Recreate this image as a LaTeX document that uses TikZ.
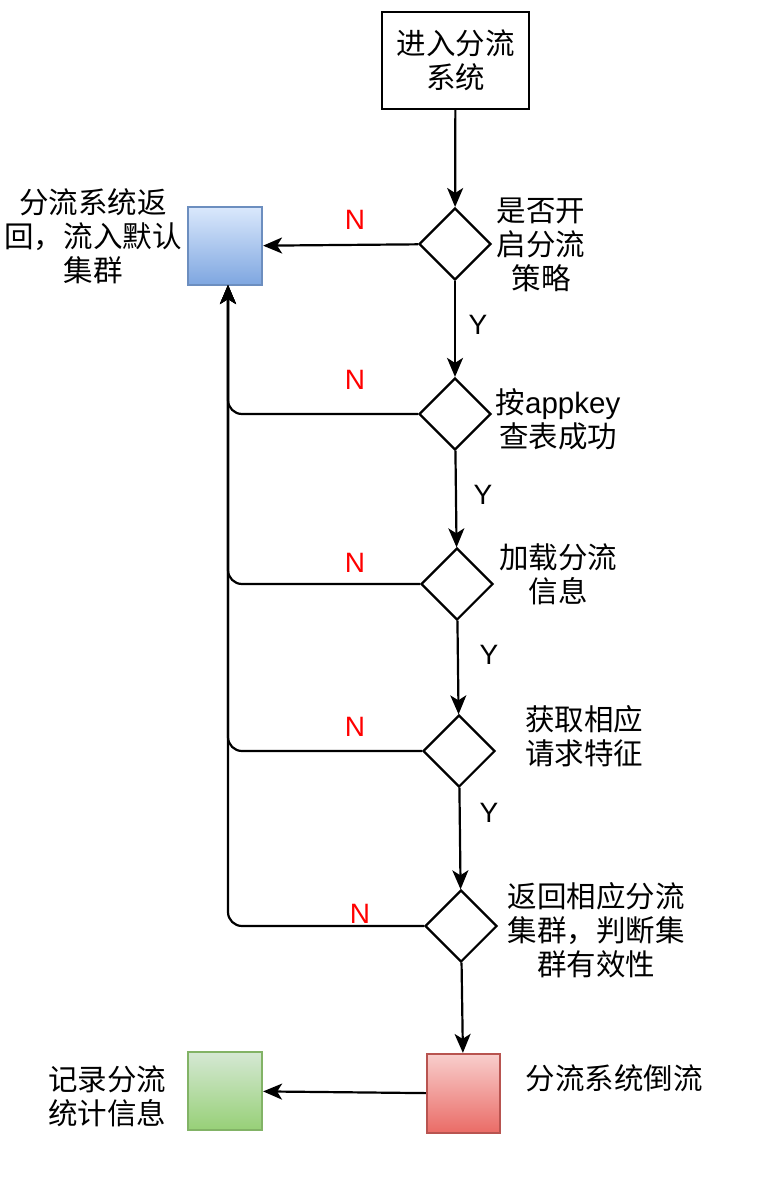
\documentclass[tikz,border=0pt]{standalone}
\usepackage{fontspec}
\setmainfont{Noto Sans CJK SC}
\newfontfamily\latinfont{Liberation Sans}
\usepackage{tikz}
\usetikzlibrary{arrows.meta, shapes.geometric, positioning}

\definecolor{blueA}{HTML}{DAE8FC}\definecolor{blueB}{HTML}{7EA6E0}\definecolor{blueL}{HTML}{6C8EBF}
\definecolor{redA}{HTML}{F8CECC}\definecolor{redB}{HTML}{EA6B66}\definecolor{redL}{HTML}{B85450}
\definecolor{greenA}{HTML}{D5E8D4}\definecolor{greenB}{HTML}{97D077}\definecolor{greenL}{HTML}{82B366}

\begin{document}
\begin{tikzpicture}[x=1pt, y=-1pt, line width=2.2pt, >={Stealth[length=19pt, width=16pt, inset=5pt]},
		font=\fontsize{29.5}{33.8}\selectfont,
		decision/.style={draw, diamond, minimum size=72pt, inner sep=0pt},
		colbox/.style={draw, minimum width=74pt, minimum height=78pt, inner sep=0pt},
		lab/.style={align=center, inner sep=0pt},
		nlab/.style={inner sep=0pt, text=red, font=\latinfont\fontsize{28}{30}\selectfont},
		ylab/.style={inner sep=0pt, font=\latinfont\fontsize{28}{30}\selectfont}]
		\fill[white] (0,0) rectangle (760,1190); \useasboundingbox (0,0) rectangle (760,1190);
		% boxes
		\node[draw, minimum width=147pt, minimum height=97pt, align=center, inner sep=0pt] (start) at (455.5,60.5) {进入分流\\系统};
		\node[colbox, draw=blueL, top color=blueA, bottom color=blueB] (dflt) at (225,246) {};
		\node[colbox, draw=redL, top color=redA, bottom color=redB, minimum width=73pt, minimum height=79pt] (rev) at (463.5,1093.5) {};
		\node[colbox, draw=greenL, top color=greenA, bottom color=greenB] (stat) at (225,1091) {};
		% decisions
		\node[decision] (open) at (455,244) {};
		\node[decision] (look) at (455,414) {};
		\node[decision] (load) at (457,584) {};
		\node[decision] (feat) at (459,751) {};
		\node[decision] (valid) at (461,926) {};
		% texts
		\node[lab] (t0) at (93,236) {分流系统返\\回，流入默认\\集群};
		\node[lab] (t1) at (541,245) {是否开\\启分流\\策略};
		\node[lab] (t2) at (558,419) {按{\latinfont appkey}\\查表成功};
		\node[lab] (t3) at (558,574) {加载分流\\信息};
		\node[lab] (t4) at (584,736) {获取相应\\请求特征};
		\node[lab] (t5) at (596,930) {返回相应分流\\集群，判断集\\群有效性};
		\node[lab] (t6) at (614,1078) {分流系统倒流};
		\node[lab] (t7) at (107,1096) {记录分流\\统计信息};
		\node[nlab] (n1) at (355,220) {N}; \node[nlab] (n2) at (355,380) {N}; \node[nlab] (n3) at (355,563) {N};
		\node[nlab] (n4) at (355,727) {N}; \node[nlab] (n5) at (360,914) {N};
		\node[ylab] (y1) at (478,325) {Y}; \node[ylab] (y2) at (483,495) {Y};
		\node[ylab] (y3) at (489,655) {Y}; \node[ylab] (y4) at (489,813) {Y};
		% connectors
		\draw[->] (start) -- (open); \draw[->] (open) -- (look); \draw[->] (look) -- (load);
		\draw[->] (load) -- (feat); \draw[->] (feat) -- (valid); \draw[->] (valid) -- (rev);
		\draw[->] (open) -- (dflt); \draw[->] (rev) -- (stat);
		\coordinate (back) at (228,285);
		\draw[->, rounded corners=14pt] (look.west) -| (back); \draw[->, rounded corners=14pt] (load.west) -| (back);
		\draw[->, rounded corners=14pt] (feat.west) -| (back); \draw[->, rounded corners=14pt] (valid.west) -| (back);
\end{tikzpicture}
\end{document}
